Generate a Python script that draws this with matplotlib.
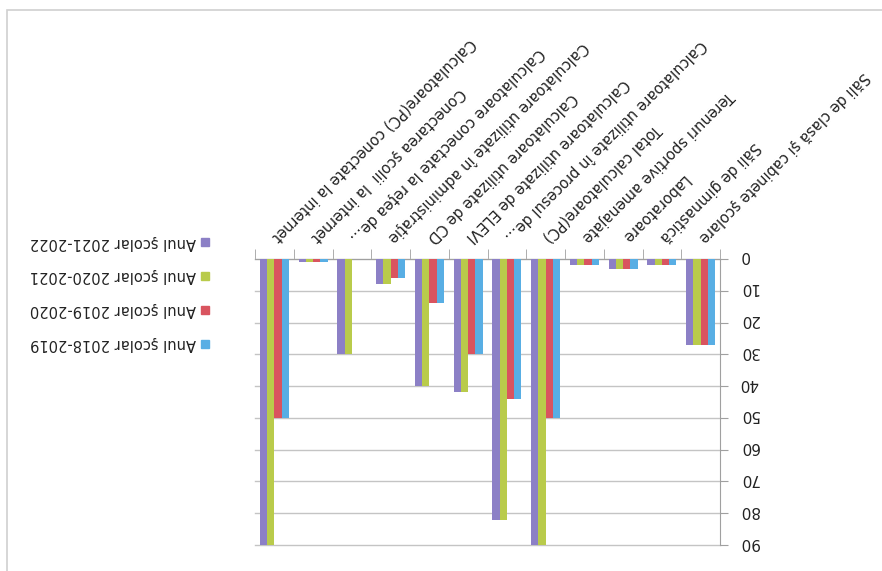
import numpy as np
import matplotlib
matplotlib.use("Agg")
import matplotlib.pyplot as plt
import matplotlib.transforms as mtransforms
from matplotlib.patches import Rectangle

# Datele graficului (imaginea originala este intoarsa cu 180 de grade)
categorii = [
    "Săli de clasă şi cabinete şcolare",
    "Săli de gimnastică",
    "Laboratoare",
    "Terenuri sportive amenajate",
    "Total calculatoare(PC)",
    "Calculatoare utilizate în procesul de...",
    "Calculatoare utilizate de ELEVI",
    "Calculatoare utilizate de CD",
    "Calculatoare utilizate în administraţie",
    "Calculatoare conectate la reţea de...",
    "Conectarea şcolii  la internet",
    "Calculatoare(PC) conectate la internet",
]
an_2018_2019 = [27, 2, 3, 2, 50, 44, 30, 14, 6, 0, 1, 50]
an_2019_2020 = [27, 2, 3, 2, 50, 44, 30, 14, 6, 0, 1, 50]
an_2020_2021 = [27, 2, 3, 2, 90, 82, 42, 40, 8, 30, 1, 90]
an_2021_2022 = [27, 2, 3, 2, 90, 82, 42, 40, 8, 30, 1, 90]
serii = ["Anul şcolar 2018-2019", "Anul şcolar 2019-2020",
         "Anul şcolar 2020-2021", "Anul şcolar 2021-2022"]
valori_y = [0, 10, 20, 30, 40, 50, 60, 70, 80, 90]

culori = ["#58aee4", "#d9545f", "#b9cb4b", "#8c80c6"]

W, H = 882, 571
fig = plt.figure(figsize=(W / 100, H / 100), dpi=100)
ax = fig.add_axes([255 / W, 1 - 545 / H, (720 - 255) / W, (545 - 259) / H])

x = np.arange(len(categorii))
w = 0.1875
date = [an_2018_2019, an_2019_2020, an_2020_2021, an_2021_2022]
for k, vals in enumerate(date):
    ax.bar(x + (k - 1.5) * w, vals, width=w, color=culori[k], zorder=3)

# axe intoarse (imagine rasturnata)
ax.set_xlim(len(categorii) - 0.5, -0.5)
ax.set_ylim(90, 0)

ax.xaxis.tick_top()
ax.set_xticks(x)
ax.set_xticklabels(categorii, rotation=225, rotation_mode="anchor",
                   ha="right", va="center", fontsize=10.5, color="#222222")
ax.set_xticks(np.arange(-0.5, len(categorii)), minor=True)
ax.tick_params(axis="x", which="major", length=0, pad=14)
ax.tick_params(axis="x", which="minor", length=7, color="#a0a0a0", top=True, bottom=False)

ax.yaxis.tick_right()
ax.set_yticks(valori_y)
ax.set_yticklabels([str(v) for v in valori_y], fontsize=11, color="#222222", va="center")
ax.tick_params(axis="y", labelrotation=180, length=6, color="#a0a0a0", pad=8)
# ridica putin etichetele axei y
sus = mtransforms.ScaledTranslation(0, 3 / 100, fig.dpi_scale_trans)
for lbl in ax.get_yticklabels():
    lbl.set_transform(lbl.get_transform() + sus)

ax.yaxis.grid(True, color="#c4c4c4", linewidth=1, clip_on=False)
ax.set_axisbelow(True)
for s in ["left", "bottom"]:
    ax.spines[s].set_visible(False)
for s in ["top", "right"]:
    ax.spines[s].set_color("#a0a0a0")

# legenda facuta manual, textul intors
leg_y = [242, 276, 310, 344]
for k in range(4):
    j = 3 - k
    fig.patches.append(Rectangle(((205 - 4) / W, 1 - (leg_y[k] + 4) / H), 8 / W, 8 / H,
                                 transform=fig.transFigure, color=culori[j]))
    fig.text(196 / W, 1 - leg_y[k] / H, serii[j], rotation=180, ha="right", va="center",
             fontsize=10.5, color="#222222")

# chenarul graficului
fig.patches.append(Rectangle((7 / W, -0.1), 1.2, 1 - 10 / H + 0.1, transform=fig.transFigure,
                             fill=False, edgecolor="#d0d0d0", linewidth=1.2))

fig.savefig("out.png", dpi=100)
